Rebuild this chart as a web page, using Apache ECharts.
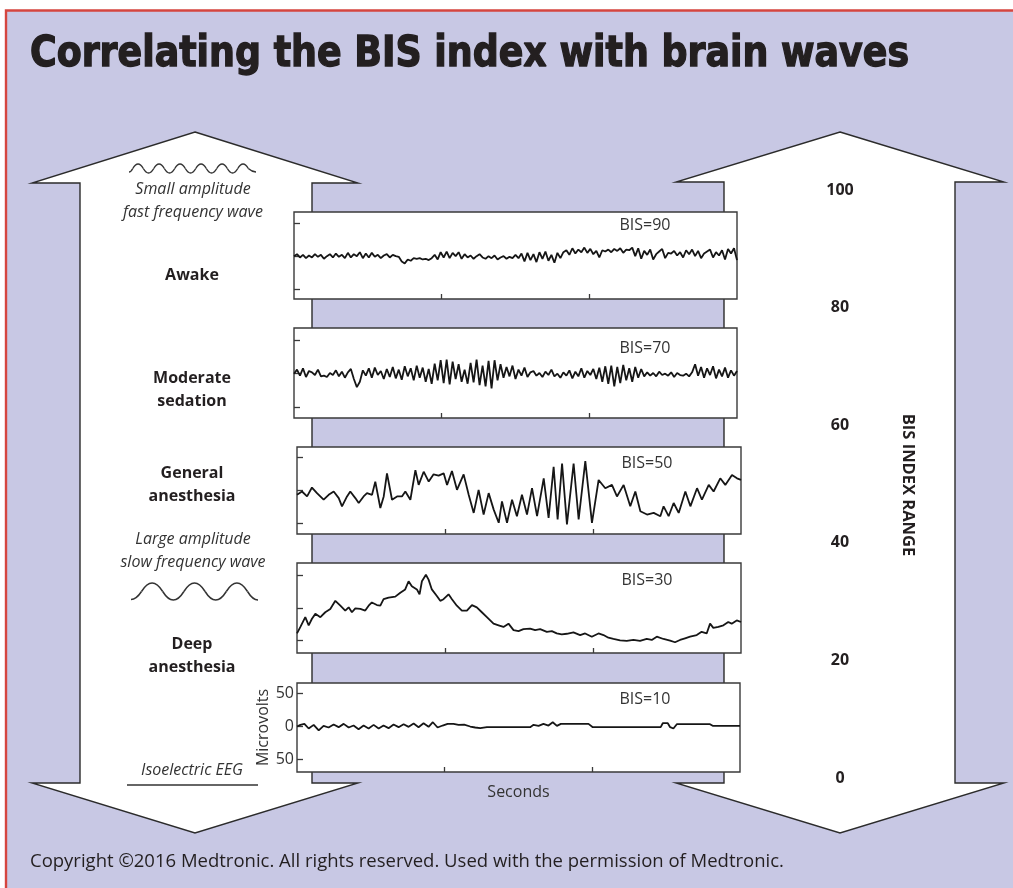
<!DOCTYPE html>
<html>
<head>
<meta charset="utf-8">
<script src="https://cdn.jsdelivr.net/npm/echarts@6/dist/echarts.min.js"></script>
<style>
html,body{margin:0;padding:0;background:#fff;}
#chart{width:1013px;height:888px;}
</style>
</head>
<body>
<div id="chart"></div>
<script>
// ---------------- DATA ----------------
const titleText = 'Correlating the BIS index with brain waves';
const copyrightText = 'Copyright \u00a92016 Medtronic. All rights reserved. Used with the permission of Medtronic.';
const bisValues = [90, 70, 50, 30, 10];
const bisRangeTicks = [0, 20, 40, 60, 80, 100];
const stateLabels = ['Awake', 'Moderate\nsedation', 'General\nanesthesia', 'Deep\nanesthesia'];
const waveNotes = ['Small amplitude\nfast frequency wave', 'Large amplitude\nslow frequency wave', 'Isoelectric EEG'];
const microvoltTicks = [-50, 0, 50];
const secondTicks = [1, 2];

// BIS=90 trace (microvolts, evenly sampled over 3 s)
const eeg90 = [0,3,-2,2,-3,1,-2,3,-1,2,-4,0,3,-2,4,-1,2,-3,5,-2,3,0,6,-3,4,-2,5,-1,2,-3,1,3,-2,2,0,-1,
  -8,-11,-5,-7,-3,
  -4,-3,-5,-4,-6,-3,
  2,-5,6,-2,7,-3,5,0,6,-4,3,
  -2,1,-4,0,3,-2,-4,0,-3,1,-5,-2,0,-4,-1,-3,2,-3,
  4,-8,5,-6,3,-9,6,-4,7,-7,2,-10,5,-3,6,
  9,2,12,4,10,6,13,5,11,3,8,-2,
  9,7,10,6,11,8,12,5,10,9,13,0,12,-4,8,2,10,-5,3,7,11,-3,5,4,8,1,6,-2,9,3,10,0,8,-3,4,7,10,-2,6,1,9,-5,11,4,12,-6];
// BIS=70 trace (microvolts, evenly sampled over 3 s)
const eeg70 = [0,6,-3,8,-5,4,2,-2,6,-4,-3,-5,1,-2,5,-4,3,-6,2,7,-8,
  -20,-12,
  5,-3,8,-6,9,-2,4,-8,7,-5,10,-7,6,-9,11,-4,8,-10,12,-6,9,-12,7,-15,
  15,-10,20,-14,21,-16,18,-8,14,-12,6,-15,16,-13,21,-17,12,-19,19,-22,
  20,-10,14,-6,10,-4,12,-8,6,-3,9,-5,2,
  4,-3,1,-5,3,-2,6,-4,0,-6,2,-3,5,-7,3,-4,8,-6,4,-2,7,-8,
  9,-12,11,-15,12,-19,10,-14,13,-10,8,-12,10,-6,7,-4,
  2,-3,1,-4,3,-2,0,-3,2,-5,1,-2,-3,0,-4,2,
  14,-3,10,-6,8,-2,11,-7,6,-4,9,-6,5,-3,4];
// BIS=50 trace (seconds, microvolts)
const eeg50Time = [0,0.034,0.068,0.101,0.135,0.180,0.214,0.248,0.282,0.304,
  0.338,0.360,0.394,0.417,0.450,0.473,0.507,0.529,0.563,0.586,
  0.608,0.642,0.676,0.709,0.732,0.766,0.800,0.822,0.856,0.890,
  0.923,0.957,0.991,1.014,1.047,1.081,1.126,1.160,1.194,1.227,
  1.261,1.295,1.329,1.363,1.385,1.419,1.453,1.486,1.520,1.554,
  1.588,1.622,1.667,1.700,1.734,1.761,1.791,1.824,1.869,1.903,
  1.948,1.993,2.038,2.083,2.128,2.162,2.207,2.252,2.286,2.320,
  2.365,2.410,2.455,2.477,2.511,2.545,2.579,2.624,2.658,2.703,
  2.736,2.782,2.815,2.860,2.894,2.939,2.973,3.0];
const eeg50Volt = [-7.5,-2.5,-10,3.5,-5,-15,-7.5,-2.5,-12.5,-25,
  -10,-2.5,-12.5,-20,-10,-5,-7.5,12.5,-27.5,-10,
  25,-15,-10,-10,-2.5,-15,30,7.5,27.5,12.5,
  23.5,21.5,25,7.5,28.5,0,23.5,-7.5,-35,0,
  -37.5,-5,-30,-50,-17.5,-50,-15,-40,-7.5,-37.5,
  2.5,-40,17.5,-42.5,35,-45,40,-52.5,40,-45,
  43.5,-50,15,2.5,7.5,-10,7.5,-25,-2.5,-32.5,
  -37.5,-35,-40,-25,-40,-20,-35,-2.5,-25,2.5,
  -15,7.5,-2.5,17.5,7.5,22.5,17.5,15];
// BIS=30 trace (seconds, microvolts)
const eeg30Time = [0,0.023,0.056,0.079,0.101,0.124,0.158,0.191,0.225,0.259,
  0.293,0.326,0.349,0.371,0.394,0.428,0.461,0.484,0.506,0.540,
  0.563,0.585,0.619,0.664,0.698,0.731,0.754,0.776,0.810,0.828,
  0.844,0.871,0.889,0.911,0.945,0.968,0.990,1.024,1.047,1.080,
  1.114,1.148,1.182,1.215,1.249,1.283,1.328,1.362,1.395,1.429,
  1.463,1.497,1.530,1.575,1.609,1.643,1.688,1.722,1.755,1.789,
  1.823,1.868,1.913,1.947,1.992,2.037,2.071,2.104,2.138,2.183,
  2.228,2.273,2.318,2.363,2.397,2.431,2.476,2.521,2.554,2.588,
  2.622,2.656,2.701,2.734,2.768,2.791,2.813,2.847,2.881,2.914,
  2.937,2.971,3.0];
const eeg30Volt = [-39,-29,-14,-26.5,-16.5,-9,-14,-6.5,-1.5,11,
  3.5,-4,1,-6.5,-0.5,-1.5,-4,3.5,8.5,4.5,
  3.5,13.5,16,17.5,23.5,28.5,41,33.5,28.5,21,
  41,51,43.5,28.5,18.5,11,13.5,21,13.5,3.5,
  -4,-4,4.5,1,-6.5,-14,-24,-26.5,-29,-24,
  -34,-35.5,-32.5,-31.5,-34,-32.5,-36.5,-35.5,-39,-40.5,
  -39.5,-37.5,-41.5,-39,-44,-39,-41.5,-45.5,-47.5,-49.5,
  -50.5,-49,-50.5,-47.5,-49,-44,-47.5,-50,-52.5,-49,
  -46.5,-44,-41.5,-36.5,-39,-24,-30.5,-29,-26.5,-21.5,
  -24,-19,-21.5];
// BIS=10 trace (seconds, microvolts)
const eeg10Time = [0,0.023,0.050,0.079,0.113,0.147,0.180,0.214,0.248,0.282,
  0.316,0.350,0.383,0.417,0.451,0.485,0.519,0.553,0.586,0.620,
  0.654,0.688,0.722,0.756,0.790,0.823,0.857,0.891,0.920,0.952,
  0.986,1.020,1.060,1.094,1.132,1.173,1.207,1.241,1.286,1.579,
  1.602,1.636,1.669,1.703,1.732,1.760,1.787,1.974,2.003,2.463,
  2.477,2.511,2.527,2.549,2.572,2.797,2.815,3.0];
const eeg10Volt = [0,2.5,4,-3,2.5,-6,1,-1.5,3,-1,
  4,-1.5,1.5,-4,1.5,-3,2.5,-3,1.5,-2.5,
  3,-1,3.5,-0.5,4.5,-1,5,-0.5,6.5,-1.5,
  1.5,4,4,2.5,3,0,-1.5,-2.5,-1,-1,
  2.5,1,4,1.5,6.5,1,4,4,-1,-1,
  5,5,-1,-3,3.5,3.5,1,1];

// ---------------- BUILD ----------------
const even = arr => arr.map((v, i) => [i * 3 / (arr.length - 1), v]);
const pairs = (t, v) => t.map((x, i) => [x, v[i]]);
const traces = [even(eeg90), even(eeg70), pairs(eeg50Time, eeg50Volt), pairs(eeg30Time, eeg30Volt), pairs(eeg10Time, eeg10Volt)];

// layout (pixels)
const panels = [
  {left: 294, top: 212, width: 443, height: 87, min: -65, max: 67},
  {left: 294, top: 328, width: 443, height: 90, min: -66, max: 68},
  {left: 297, top: 447, width: 444, height: 87, min: -67, max: 65},
  {left: 297, top: 563, width: 444, height: 90, min: -69, max: 69},
  {left: 297, top: 683, width: 443, height: 89, min: -69, max: 66}
];
const ink = '#231f20';
const bodyFont = '"Open Sans", "Noto Sans", sans-serif';

const grids = panels.map(p => ({
  left: p.left, top: p.top, width: p.width, height: p.height,
  show: true, backgroundColor: '#ffffff', borderColor: '#3a3a3a', borderWidth: 1.4
}));
grids.push({left: 850, top: 190, width: 1, height: 588, show: false});

const xAxes = panels.map((p, i) => ({
  type: 'value', gridIndex: i, min: 0, max: 3, position: 'bottom',
  axisLine: {show: false, onZero: false}, splitLine: {show: false},
  axisTick: {show: true, inside: true, length: 5, customValues: secondTicks, lineStyle: {color: '#3a3a3a', width: 1.3}},
  axisLabel: {show: false},
  name: i === 4 ? 'Seconds' : '', nameLocation: 'middle', nameGap: 12,
  nameTextStyle: {fontFamily: bodyFont, fontSize: 16, color: '#333'}
}));
xAxes.push({type: 'value', gridIndex: 5, show: false});

const yAxes = panels.map((p, i) => ({
  type: 'value', gridIndex: i, min: p.min, max: p.max, position: 'left',
  axisLine: {show: false, onZero: false}, splitLine: {show: false},
  axisTick: {show: true, inside: true, length: 6, customValues: microvoltTicks, lineStyle: {color: '#3a3a3a', width: 1.3}},
  axisLabel: {show: i === 4, customValues: microvoltTicks, formatter: v => String(Math.abs(v)), margin: 3,
    fontFamily: bodyFont, fontSize: 16, color: '#333'},
  name: i === 4 ? 'Microvolts' : '', nameLocation: 'middle', nameGap: 25, nameRotate: 90,
  nameTextStyle: {fontFamily: bodyFont, fontSize: 16, color: '#333'}
}));
yAxes.push({
  type: 'value', gridIndex: 5, min: 0, max: 100, interval: 20,
  axisLine: {show: false}, axisTick: {show: false}, splitLine: {show: false},
  axisLabel: {show: true, align: 'center', margin: 10, fontFamily: bodyFont, fontWeight: 'bold', fontSize: 16, color: ink,
    customValues: bisRangeTicks}
});

const series = traces.map((d, i) => ({
  type: 'line', xAxisIndex: i, yAxisIndex: i, data: d, showSymbol: false, symbol: 'none',
  lineStyle: {color: '#161616', width: 1.8}, z: 3, silent: true
}));

// graphic decoration
const arrowStyle = {fill: '#ffffff', stroke: '#2b2b2b', lineWidth: 1.4};
const leftArrow = [[195,132],[358,183],[312,183],[312,783],[358,783],[195,833],[32,783],[80,783],[80,183],[32,183]];
const rightArrow = [[840,132],[1004,182],[955,182],[955,783],[1004,783],[840,833],[676,783],[724,783],[724,182],[676,182]];

const txt = (text, x, y, extra) => ({
  type: 'text', x: x, y: y, z: -50,
  style: Object.assign({text: text, x: 0, y: 0, align: 'center', verticalAlign: 'middle', fill: ink,
    font: '16px ' + bodyFont}, extra || {})
});

// wave icon built of quadratic half-waves (decoration only)
function waveIcon(x0, yc, half, amp, count, startUp, lead, tail, lw) {
  const els = [];
  const wStyle = {stroke: '#333', lineWidth: lw, fill: null};
  els.push({type: 'bezierCurve', z: -50, shape: {x1: lead[0], y1: lead[1], cpx1: (lead[0] + x0) / 2, cpy1: lead[1], x2: x0, y2: yc}, style: wStyle});
  let x = x0, up = startUp;
  for (let k = 0; k < count; k++) {
    els.push({type: 'bezierCurve', z: -50, shape: {x1: x, y1: yc, cpx1: x + half / 2, cpy1: yc + (up ? -2 * amp : 2 * amp), x2: x + half, y2: yc}, style: wStyle});
    x += half; up = !up;
  }
  els.push({type: 'bezierCurve', z: -50, shape: {x1: x, y1: yc, cpx1: (x + tail[0]) / 2, cpy1: tail[1], x2: tail[0], y2: tail[1]}, style: wStyle});
  return els;
}

const stateY = [275, 389.5, 484.5, 656];
const panelLabelPos = [[645, 225], [645, 348], [647, 463], [647, 580], [645, 699]];

const graphics = [
  {type: 'rect', z: -100, shape: {x: 6, y: 10.5, width: 1030, height: 900},
    style: {fill: '#c8c8e4', stroke: '#d5453f', lineWidth: 2.4}},
  {type: 'polygon', z: -90, shape: {points: leftArrow}, style: arrowStyle},
  {type: 'polygon', z: -90, shape: {points: rightArrow}, style: arrowStyle},
  // isoelectric line
  {type: 'line', z: -50, shape: {x1: 127, y1: 785, x2: 258, y2: 785}, style: {stroke: '#333', lineWidth: 1.5}},
  // title
  {type: 'text', x: 30, y: 55, scaleX: 0.94, z: 10, style: {text: titleText, x: 0, y: 0, verticalAlign: 'middle', fill: ink,
    stroke: ink, lineWidth: 1.3,
    font: 'bold 43px "Liberation Sans Narrow", "DejaVu Sans Condensed", sans-serif'}},
  // copyright
  {type: 'text', x: 30, y: 862, z: 10, style: {text: copyrightText, x: 0, y: 0, verticalAlign: 'middle', fill: ink,
    font: '18.5px ' + bodyFont}},
  // BIS INDEX RANGE
  {type: 'text', x: 908, y: 485, rotation: -Math.PI / 2, z: 10, style: {text: 'BIS INDEX RANGE', x: 0, y: 0,
    align: 'center', verticalAlign: 'middle', fill: ink, font: 'bold 16.5px ' + bodyFont}},
  txt(waveNotes[0], 193, 200.5, {font: 'italic 16px ' + bodyFont, lineHeight: 23, fill: '#333'}),
  txt(waveNotes[1], 193, 550.5, {font: 'italic 16px ' + bodyFont, lineHeight: 23, fill: '#333'}),
  txt(waveNotes[2], 192, 770, {font: 'italic 16px ' + bodyFont, fill: '#333'})
].concat(
  waveIcon(132.8, 168.5, 10.5, 4.5, 11, true, [129, 172], [256, 172], 1.4),
  waveIcon(141.5, 591.5, 21.2, 8.5, 5, true, [131, 599.5], [258, 600], 1.5)
);
stateLabels.forEach((s, i) => graphics.push(txt(s, 192, stateY[i], {font: 'bold 16px ' + bodyFont, lineHeight: 23})));
bisValues.forEach((v, i) => {
  const t = txt('BIS=' + v, panelLabelPos[i][0], panelLabelPos[i][1], {font: '16px ' + bodyFont, fill: '#333'});
  t.z = 20;
  graphics.push(t);
});

const chart = echarts.init(document.getElementById('chart'), null, {renderer: 'canvas'});
chart.setOption({
  animation: false,
  backgroundColor: '#ffffff',
  grid: grids,
  xAxis: xAxes,
  yAxis: yAxes,
  series: series,
  graphic: {elements: graphics}
});
</script>
</body>
</html>
